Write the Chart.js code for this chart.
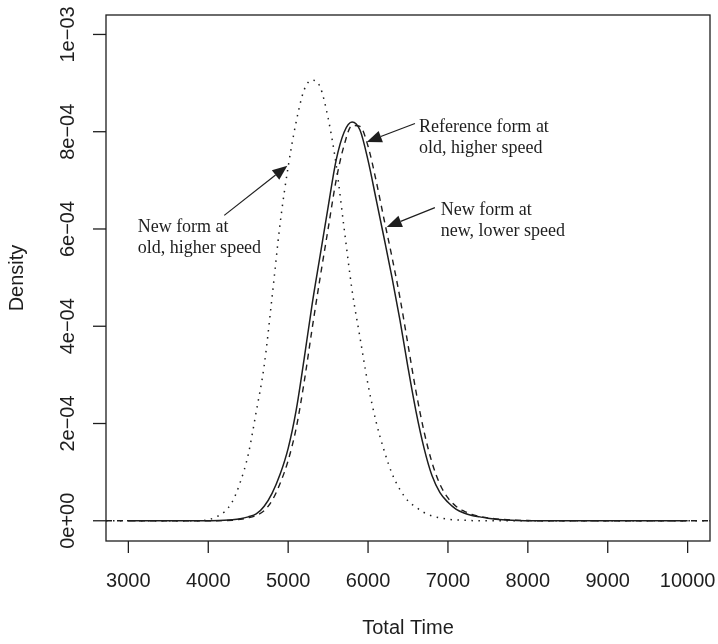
<!DOCTYPE html>
<html>
<head>
<meta charset="utf-8">
<script src="https://cdn.jsdelivr.net/npm/chart.js@4"></script>
<style>
  html, body { margin: 0; padding: 0; background: #fff; }
  canvas { display: block; }
</style>
</head>
<body>
<canvas id="densityChart" width="718" height="644"></canvas>
<script>
// --- DATA (density values in units of 1e-4) ---
const xTicks = [3000, 4000, 5000, 6000, 7000, 8000, 9000, 10000];
const yTicks = [0, 2e-4, 4e-4, 6e-4, 8e-4, 1e-3];
const yTickLabels = ['0e+00', '2e\u221204', '4e\u221204', '6e\u221204', '8e\u221204', '1e\u221203'];

// Reference form at old, higher speed (solid)
const refX = [3000, 4000, 4200, 4300, 4400, 4500, 4600, 4700, 4800, 4900, 5000, 5100, 5200, 5300, 5400, 5500,
  5600, 5700, 5800, 5900, 6000, 6100, 6200, 6300, 6400, 6500, 6600, 6700, 6800, 6900, 7000, 7100, 7200, 7300,
  7400, 7500, 7600, 7800, 8000, 10000];
const refY = [0, 0, 0.01, 0.02, 0.04, 0.08, 0.14, 0.30, 0.57, 0.96, 1.49, 2.27, 3.33, 4.45, 5.45, 6.45,
  7.41, 7.99, 8.20, 8.03, 7.41, 6.62, 5.82, 5.00, 4.12, 3.15, 2.25, 1.50, 0.93, 0.58, 0.38, 0.24, 0.16, 0.11,
  0.08, 0.05, 0.03, 0.01, 0, 0];

// New form at new, lower speed (dashed)
const newLowX = [2720, 4000, 4200, 4300, 4400, 4500, 4600, 4700, 4800, 4900, 5000, 5100, 5200, 5300, 5400, 5500,
  5600, 5700, 5800, 5900, 6000, 6100, 6200, 6300, 6400, 6500, 6600, 6700, 6800, 6900, 7000, 7100, 7200, 7300,
  7400, 7500, 7600, 7800, 8000, 8200, 10280];
const newLowY = [0, 0, 0.005, 0.01, 0.03, 0.06, 0.11, 0.21, 0.42, 0.77, 1.24, 1.90, 2.85, 3.95, 5.00, 6.00,
  7.00, 7.72, 8.13, 8.11, 7.70, 7.00, 6.20, 5.42, 4.58, 3.62, 2.66, 1.84, 1.20, 0.75, 0.47, 0.30, 0.20, 0.13,
  0.09, 0.06, 0.04, 0.015, 0.005, 0, 0];

// New form at old, higher speed (dotted)
const newHighX = [2720, 3900, 4000, 4100, 4200, 4300, 4400, 4500, 4600, 4700, 4800, 4900, 5000, 5100, 5200, 5300,
  5400, 5500, 5600, 5700, 5800, 5900, 6000, 6100, 6200, 6300, 6400, 6500, 6600, 6700, 6800, 6900, 7000, 7200,
  7400, 10280];
const newHighY = [0, 0, 0.02, 0.08, 0.18, 0.39, 0.79, 1.36, 2.24, 3.19, 4.62, 6.12, 7.28, 8.20, 8.86, 9.06,
  8.92, 8.28, 7.33, 6.02, 4.74, 3.76, 2.80, 2.04, 1.45, 0.97, 0.64, 0.41, 0.28, 0.17, 0.10, 0.06, 0.03, 0.01,
  0, 0];

// labels with arrows (tail, tip and text anchor in data units, y in 1e-4)
const notes = [
  { lines: ['Reference form at', 'old, higher speed'], textX: 6637, textY: 7.99, tail: [6587, 8.17], tip: [5984, 7.79] },
  { lines: ['New form at', 'new, lower speed'], textX: 6909, textY: 6.28, tail: [6837, 6.44], tip: [6234, 6.04] },
  { lines: ['New form at', 'old, higher speed'], textX: 3116, textY: 5.93, tail: [4200, 6.28], tip: [4990, 7.30] }
];

const toPoints = (xs, ys) => xs.map((x, i) => ({ x: x, y: ys[i] * 1e-4 }));

// --- AXES, BOX AND ANNOTATIONS ---
const ink = '#1e1e1e';

const overlay = {
  id: 'overlay',
  afterDraw(chart) {
    const { ctx, chartArea: a, scales: { x, y } } = chart;
    const seg = (x1, y1, x2, y2) => {
      ctx.beginPath();
      ctx.moveTo(x1, y1);
      ctx.lineTo(x2, y2);
      ctx.stroke();
    };
    ctx.save();
    ctx.strokeStyle = ink;
    ctx.fillStyle = ink;
    ctx.lineWidth = 1.3;
    ctx.strokeRect(a.left, a.top, a.right - a.left, a.bottom - a.top);

    ctx.font = '20px "Liberation Sans", Arial, sans-serif';
    ctx.textAlign = 'center';
    ctx.textBaseline = 'middle';
    xTicks.forEach(v => {
      const px = x.getPixelForValue(v);
      seg(px, a.bottom, px, a.bottom + 12);
      ctx.fillText(String(v), px, a.bottom + 40);
    });
    yTicks.forEach((v, i) => {
      const py = y.getPixelForValue(v);
      seg(a.left - 13, py, a.left, py);
      ctx.save();
      ctx.translate(a.left - 38, py);
      ctx.rotate(-Math.PI / 2);
      ctx.fillText(yTickLabels[i], 0, 0);
      ctx.restore();
    });

    ctx.fillText('Total Time', (a.left + a.right) / 2, a.bottom + 87);
    ctx.save();
    ctx.translate(a.left - 89, (a.top + a.bottom) / 2);
    ctx.rotate(-Math.PI / 2);
    ctx.fillText('Density', 0, 0);
    ctx.restore();

    // arrows
    ctx.lineWidth = 1.2;
    notes.forEach(n => {
      const tx = x.getPixelForValue(n.tail[0]), ty = y.getPixelForValue(n.tail[1] * 1e-4);
      const hx = x.getPixelForValue(n.tip[0]), hy = y.getPixelForValue(n.tip[1] * 1e-4);
      const ang = Math.atan2(hy - ty, hx - tx);
      const len = 15, half = 6;
      const bx = hx - len * Math.cos(ang), by = hy - len * Math.sin(ang);
      seg(tx, ty, bx, by);
      ctx.beginPath();
      ctx.moveTo(hx, hy);
      ctx.lineTo(bx + half * Math.sin(ang), by - half * Math.cos(ang));
      ctx.lineTo(bx - half * Math.sin(ang), by + half * Math.cos(ang));
      ctx.closePath();
      ctx.fill();
    });

    // note text
    ctx.font = '18px "Liberation Serif", "Times New Roman", serif';
    ctx.textAlign = 'left';
    ctx.textBaseline = 'alphabetic';
    notes.forEach(n => {
      const px = x.getPixelForValue(n.textX);
      const py = y.getPixelForValue(n.textY * 1e-4);
      n.lines.forEach((t, i) => ctx.fillText(t, px, py + i * 21));
    });
    ctx.restore();
  }
};

// --- CHART ---
const ctx = document.getElementById('densityChart').getContext('2d');

const densityChart = new Chart(ctx, {
  type: 'line',
  data: {
    datasets: [
      {
        label: 'Reference form at old, higher speed',
        data: toPoints(refX, refY),
        borderColor: ink,
        borderWidth: 1.5
      },
      {
        label: 'New form at new, lower speed',
        data: toPoints(newLowX, newLowY),
        borderColor: ink,
        borderWidth: 1.4,
        borderDash: [6, 5]
      },
      {
        label: 'New form at old, higher speed',
        data: toPoints(newHighX, newHighY),
        borderColor: ink,
        borderWidth: 1.5,
        borderDash: [1.5, 5.5]
      }
    ]
  },
  options: {
    responsive: false,
    animation: false,
    devicePixelRatio: 1,
    layout: { padding: { left: 106, top: 15, right: 8, bottom: 103 } },
    elements: {
      point: { radius: 0 },
      line: { cubicInterpolationMode: 'monotone', fill: false }
    },
    scales: {
      x: { type: 'linear', min: 2720, max: 10280, display: false },
      y: { type: 'linear', min: -0.0000416, max: 0.00104, display: false }
    },
    plugins: {
      legend: { display: false },
      tooltip: { enabled: false }
    }
  },
  plugins: [overlay]
});
</script>
</body>
</html>
